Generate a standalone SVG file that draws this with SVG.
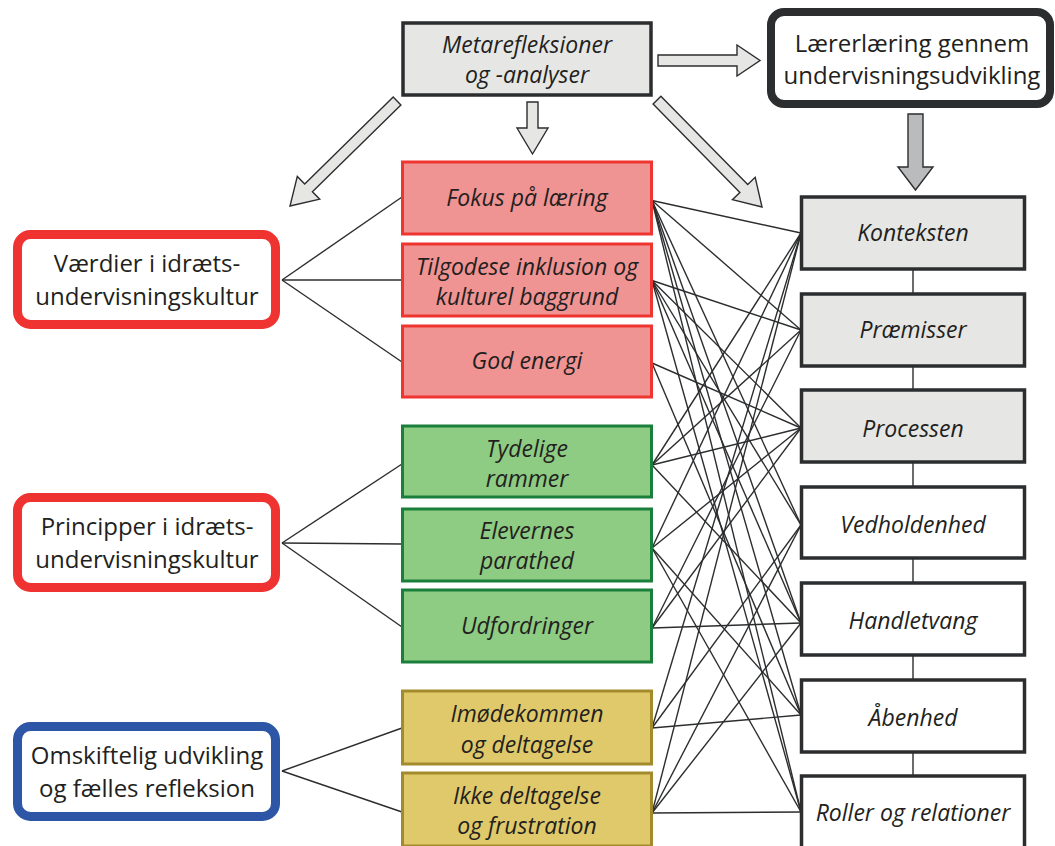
<svg xmlns="http://www.w3.org/2000/svg" width="1055" height="846" viewBox="0 0 1055 846">
<style>
.bg{fill:#ffffff}
.gray{fill:#e6e7e5;stroke:#2b2d2f;stroke-width:3.5}
.white{fill:#ffffff;stroke:#2b2d2f;stroke-width:3.5}
.red{fill:#f09393;stroke:#ee3530;stroke-width:3}
.green{fill:#8ecb83;stroke:#1b7f3c;stroke-width:3}
.yellow{fill:#dfc96a;stroke:#a38b2c;stroke-width:3}
.theme{fill:#ffffff;stroke-width:9}
.arrow{fill:#e6e7e5;stroke:#2b2d2f;stroke-width:1.4;stroke-linejoin:miter}
.arrowdark{fill:#b9bbbc;stroke:#2b2d2f;stroke-width:1.4}
.t{font-family:"Open Sans","Liberation Sans",sans-serif;fill:#231f20;text-anchor:middle;font-size:24px}
.ti{font-family:"Open Sans","Liberation Sans",sans-serif;font-style:italic;fill:#231f20;text-anchor:middle;font-size:23px}
.conn line{stroke:#2b2d2f;stroke-width:1.4}
</style>
<rect class="bg" x="0" y="0" width="1055" height="846"/>

<g id="connectors" class="conn">
<line x1="282" y1="280" x2="402" y2="197"/>
<line x1="282" y1="280" x2="402" y2="280"/>
<line x1="282" y1="280" x2="402" y2="362"/>
<line x1="282" y1="543" x2="402" y2="464"/>
<line x1="282" y1="543" x2="402" y2="544"/>
<line x1="282" y1="543" x2="402" y2="627"/>
<line x1="282" y1="771" x2="402" y2="728"/>
<line x1="282" y1="771" x2="402" y2="812"/>
<line x1="652" y1="200.5" x2="801" y2="233"/>
<line x1="652" y1="200.5" x2="801" y2="330"/>
<line x1="652" y1="200.5" x2="801" y2="525"/>
<line x1="652" y1="200.5" x2="801" y2="623"/>
<line x1="652" y1="200.5" x2="801" y2="715"/>
<line x1="652" y1="200.5" x2="801" y2="812"/>
<line x1="652" y1="280.5" x2="801" y2="330"/>
<line x1="652" y1="280.5" x2="801" y2="428"/>
<line x1="652" y1="280.5" x2="801" y2="525"/>
<line x1="652" y1="280.5" x2="801" y2="623"/>
<line x1="652" y1="280.5" x2="801" y2="812"/>
<line x1="652" y1="363" x2="801" y2="428"/>
<line x1="652" y1="363" x2="801" y2="715"/>
<line x1="652" y1="465" x2="801" y2="233"/>
<line x1="652" y1="465" x2="801" y2="330"/>
<line x1="652" y1="465" x2="801" y2="428"/>
<line x1="652" y1="465" x2="801" y2="623"/>
<line x1="652" y1="548" x2="801" y2="233"/>
<line x1="652" y1="548" x2="801" y2="428"/>
<line x1="652" y1="548" x2="801" y2="715"/>
<line x1="652" y1="548" x2="801" y2="812"/>
<line x1="652" y1="628" x2="801" y2="330"/>
<line x1="652" y1="628" x2="801" y2="428"/>
<line x1="652" y1="628" x2="801" y2="623"/>
<line x1="652" y1="728" x2="801" y2="233"/>
<line x1="652" y1="728" x2="801" y2="525"/>
<line x1="652" y1="728" x2="801" y2="715"/>
<line x1="652" y1="813" x2="801" y2="233"/>
<line x1="652" y1="813" x2="801" y2="525"/>
<line x1="652" y1="813" x2="801" y2="623"/>
<line x1="652" y1="813" x2="801" y2="812"/>
<line x1="913" y1="270" x2="913" y2="775"/>
<polygon class="arrow" points="658,55 737,55 737,45 760,60.5 737,76 737,66 658,66"/>
<polygon class="arrow" points="527,102 538,102 538,128 548,128 532.5,154 517,128 527,128"/>
<polygon class="arrow" points="400.9,104.9 312.4,191.7 319.7,199.2 290,206 297.3,176.4 304.7,183.9 393.2,97.1"/>
<polygon class="arrow" points="653.1,103.9 739.9,192.4 732.4,199.7 762,207 755.2,177.3 747.7,184.6 660.9,96.2"/>
<polygon class="arrowdark" points="908,114 923,114 923,167 933,167 915.5,190 898,167 908,167"/>
</g>

<g id="meta">
<rect class="gray" x="403" y="23" width="248" height="72"/>
<text class="ti" x="527" y="53">Metarefleksioner</text>
<text class="ti" x="527" y="83">og -analyser</text>
</g>

<g id="laererlaering">
<rect x="771" y="12" width="279" height="92" rx="13" fill="#ffffff" stroke="#2b2d2f" stroke-width="8"/>
<text class="t" x="912" y="52">Lærerlæring gennem</text>
<text class="t" x="912" y="84">undervisningsudvikling</text>
</g>

<g id="vaerdier">
<rect class="theme" x="17.5" y="234.5" width="258" height="90" rx="13" stroke="#ee3331"/>
<text class="t" x="147" y="272">Værdier i idræts-</text>
<text class="t" x="147" y="305">undervisningskultur</text>
</g>

<g id="principper">
<rect class="theme" x="17.5" y="497.5" width="258" height="90" rx="13" stroke="#ee3331"/>
<text class="t" x="147" y="535">Principper i idræts-</text>
<text class="t" x="147" y="568">undervisningskultur</text>
</g>

<g id="omskiftelig">
<rect class="theme" x="17.5" y="726.5" width="258" height="90" rx="13" stroke="#2e56a6"/>
<text class="t" x="147" y="764">Omskiftelig udvikling</text>
<text class="t" x="147" y="797">og fælles refleksion</text>
</g>

<g id="fokus">
<rect class="red" x="402.5" y="162" width="249" height="72"/>
<text class="ti" x="527" y="206">Fokus på læring</text>
</g>
<g id="tilgodese">
<rect class="red" x="402.5" y="244" width="249" height="72"/>
<text class="ti" x="527" y="275">Tilgodese inklusion og</text>
<text class="ti" x="527" y="305">kulturel baggrund</text>
</g>
<g id="energi">
<rect class="red" x="402.5" y="326" width="249" height="71"/>
<text class="ti" x="527" y="369">God energi</text>
</g>
<g id="tydelige">
<rect class="green" x="402.5" y="426" width="249" height="71"/>
<text class="ti" x="527" y="457">Tydelige</text>
<text class="ti" x="527" y="487">rammer</text>
</g>
<g id="elevernes">
<rect class="green" x="402.5" y="509" width="249" height="72"/>
<text class="ti" x="527" y="539">Elevernes</text>
<text class="ti" x="527" y="569">parathed</text>
</g>
<g id="udfordringer">
<rect class="green" x="402.5" y="590" width="249" height="72"/>
<text class="ti" x="527" y="634">Udfordringer</text>
</g>
<g id="imoedekommen">
<rect class="yellow" x="402.5" y="691" width="249" height="73"/>
<text class="ti" x="527" y="722">Imødekommen</text>
<text class="ti" x="527" y="753">og deltagelse</text>
</g>
<g id="ikke">
<rect class="yellow" x="402.5" y="773" width="249" height="73"/>
<text class="ti" x="527" y="804">Ikke deltagelse</text>
<text class="ti" x="527" y="834">og frustration</text>
</g>

<g id="konteksten">
<rect class="gray" x="801.5" y="197" width="223" height="72"/>
<text class="ti" x="913" y="241">Konteksten</text>
</g>
<g id="praemisser">
<rect class="gray" x="801.5" y="294" width="223" height="72"/>
<text class="ti" x="913" y="338">Præmisser</text>
</g>
<g id="processen">
<rect class="gray" x="801.5" y="390" width="223" height="72"/>
<text class="ti" x="913" y="437">Processen</text>
</g>
<g id="vedholdenhed">
<rect class="white" x="801.5" y="487" width="223" height="71"/>
<text class="ti" x="913" y="533">Vedholdenhed</text>
</g>
<g id="handletvang">
<rect class="white" x="801.5" y="583" width="223" height="72"/>
<text class="ti" x="913" y="629">Handletvang</text>
</g>
<g id="aabenhed">
<rect class="white" x="801.5" y="680" width="223" height="72"/>
<text class="ti" x="913" y="726">Åbenhed</text>
</g>
<g id="roller">
<rect class="white" x="801.5" y="776" width="223" height="72"/>
<text class="ti" x="913" y="821">Roller og relationer</text>
</g>
</svg>
